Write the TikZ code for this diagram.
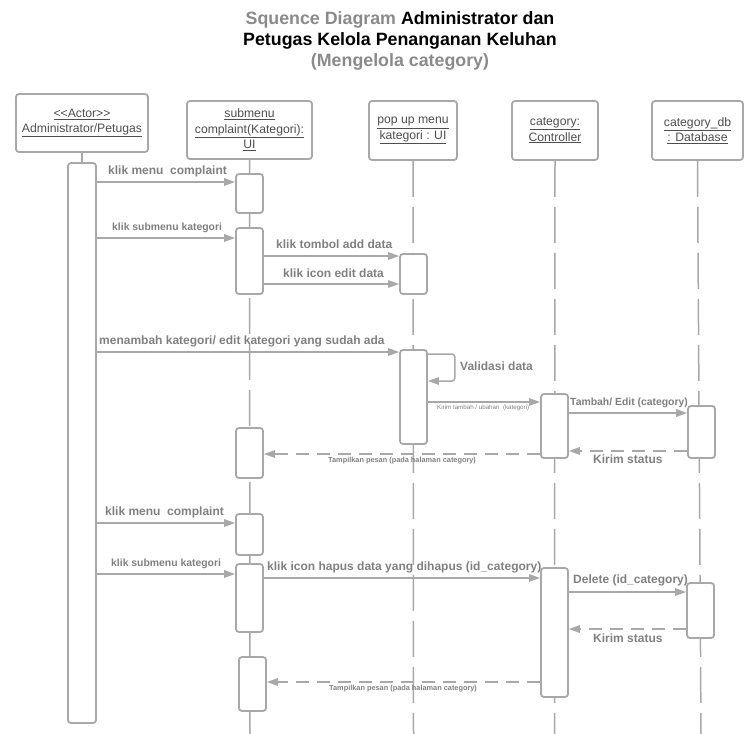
\documentclass[tikz,border=0pt]{standalone}
\usepackage{fontspec}
\setmainfont{Liberation Sans}
\usetikzlibrary{arrows.meta}

\definecolor{linegray}{HTML}{A8A8A8}
\definecolor{lblgray}{HTML}{808080}
\definecolor{hdrgray}{HTML}{4E4E4E}
\definecolor{titlegray}{HTML}{8A8A8A}

\tikzset{
  headbox/.style={draw=linegray, line width=1.8pt, rounded corners=3pt, fill=white,
    align=center, text=hdrgray, font=\fontsize{12.2}{15.5}\selectfont, inner sep=0pt},
  actbox/.style={draw=linegray, line width=1.8pt, rounded corners=3pt, fill=white,
    minimum width=27pt, inner sep=0pt},
  lifeline/.style={draw=linegray, line width=1.5pt, dash pattern=on 36pt off 10pt},
  msg/.style={draw=linegray, line width=1.5pt, -{Triangle[length=11pt,width=7.5pt]}},
  reply/.style={msg, dash pattern=on 13pt off 8pt},
  lbl/.style={text=lblgray, font=\bfseries\fontsize{12}{14}\selectfont, anchor=west, inner sep=0pt},
  lblmid/.style={lbl, font=\bfseries\fontsize{10.4}{12}\selectfont},
  lblsmall/.style={lbl, font=\bfseries\fontsize{7.35}{8}\selectfont},
  lbltiny/.style={lbl, font=\fontsize{6.2}{7}\selectfont},
}

\begin{document}
\begin{tikzpicture}[x=1pt, y=-1pt]
\useasboundingbox (0,0) rectangle (745,734);

% title
\node[align=center, font=\bfseries\fontsize{17.8}{21}\selectfont, inner sep=0pt] (title) at (400,41)
  {\textcolor{titlegray}{Squence Diagram} Administrator dan\\
   Petugas Kelola Penanganan Keluhan\\
   \textcolor{titlegray}{(Mengelola category)}};

% participant heads
\node[headbox, minimum width=132pt, minimum height=58pt] (actor) at (82,123)
  {\underline{<{}<Actor>{}>}\\\underline{Administrator/Petugas}};
\node[headbox, minimum width=125pt, minimum height=58pt] (sub) at (249.5,130)
  {\underline{submenu}\\\underline{complaint(Kategori):}\\\underline{UI}};
\node[headbox, minimum width=88pt, minimum height=59pt] (pop) at (413,130.5)
  {\underline{pop up menu}\\\underline{kategori : UI}};
\node[headbox, minimum width=86pt, minimum height=59pt] (ctl) at (555,130.5)
  {\underline{category:}\\\underline{Controller}};
\node[headbox, minimum width=91pt, minimum height=59pt] (db) at (697.5,130.5)
  {\underline{category\_db}\\\underline{: Database}};

% lifeline ends
\coordinate (subEnd) at (250,734);
\coordinate (popEnd) at (413.5,734);
\coordinate (ctlEnd) at (554.5,734);
\coordinate (dbEnd) at (701,734);

% lifelines
\draw[lifeline] (sub.south) -- (subEnd);
\draw[lifeline] (pop.south) -- (popEnd);
\draw[lifeline] (ctl.south) -- (ctlEnd);
\draw[lifeline] (db.south) -- (dbEnd);

% activation bars
\node[actbox, minimum width=28pt, minimum height=560pt] (actbar) at (82,443) {};
\draw[draw=linegray, line width=1.5pt] (actor.south) -- (actbar.north);

\node[actbox, minimum height=39pt] (subA1) at (249.5,193.5) {};
\node[actbox, minimum height=66pt] (subA2) at (249.5,261) {};
\node[actbox, minimum height=50pt] (subA3) at (249.5,453) {};
\node[actbox, minimum height=41pt] (subA4) at (249.5,534.5) {};
\node[actbox, minimum height=68pt] (subA5) at (249.5,598) {};
\node[actbox, minimum height=54pt] (subA6) at (252.5,684) {};

\node[actbox, minimum height=40pt] (popP1) at (413.5,274) {};
\node[actbox, minimum height=94pt] (popP2) at (413.5,397) {};

\node[actbox, minimum height=64pt] (ctlC1) at (554.5,426) {};
\node[actbox, minimum height=129pt] (ctlC2) at (554.5,632.5) {};

\node[actbox, minimum height=52pt] (dbD1) at (701.5,432) {};
\node[actbox, minimum height=55pt] (dbD2) at (700.5,610.5) {};

% messages: first part
\draw[msg] (actbar.east |- 0,182) -- (subA1.west |- 0,182);
\node[lbl] (m1) at (108,171) {klik menu\ \ complaint};

\draw[msg] (actbar.east |- 0,238) -- (subA2.west |- 0,238);
\node[lblmid] (m2) at (112,228) {klik submenu kategori};

\draw[msg] (subA2.east |- 0,256) -- (popP1.west |- 0,256);
\node[lbl] (m3) at (276,244) {klik tombol add data};

\draw[msg] (subA2.east |- 0,284) -- (popP1.west |- 0,284);
\node[lbl] (m4) at (283,273) {klik icon edit data};

\draw[msg] (actbar.east |- 0,352) -- (popP2.west |- 0,352);
\node[lbl] (m5) at (99,341) {menambah kategori/ edit kategori yang sudah ada};

\draw[msg, rounded corners=3pt] (popP2.east |- 0,354) -- ++(27,0) -- ++(0,27) -- (popP2.east |- 0,381);
\node[lbl] (m6) at (460,366) {Validasi data};

\draw[msg] (popP2.east |- 0,402) -- (ctlC1.west |- 0,402);
\node[lbltiny] (m7) at (437,408) {Kirim tambah / ubahan\ \ (kategori)};

\draw[msg] (ctlC1.east |- 0,413) -- (dbD1.west |- 0,413);
\node[lblmid] (m8) at (570,403) {Tambah/ Edit (category)};

\draw[reply] (dbD1.west |- 0,451) -- (ctlC1.east |- 0,451);
\node[lbl] (m9) at (593,459) {Kirim status};

\draw[reply] (ctlC1.west |- 0,454) -- (subA3.east |- 0,454);
\node[lblsmall] (m10) at (328,461) {Tampilkan pesan (pada halaman category)};

% messages: second part
\draw[msg] (actbar.east |- 0,523) -- (subA4.west |- 0,523);
\node[lbl] (m11) at (105,512) {klik menu\ \ complaint};

\draw[msg] (actbar.east |- 0,574) -- (subA5.west |- 0,574);
\node[lblmid] (m12) at (111,564) {klik submenu kategori};

\draw[msg] (subA5.east |- 0,578) -- (ctlC2.west |- 0,578);
\node[lbl] (m13) at (267,567) {klik icon hapus data yang dihapus (id\_category)};

\draw[msg] (ctlC2.east |- 0,592) -- (dbD2.west |- 0,592);
\node[lbl] (m14) at (573,580) {Delete (id\_category)};

\draw[reply] (dbD2.west |- 0,629) -- (ctlC2.east |- 0,629);
\node[lbl] (m15) at (593,638) {Kirim status};

\draw[reply] (ctlC2.west |- 0,682) -- (subA6.east |- 0,682);
\node[lblsmall] (m16) at (329,689) {Tampilkan pesan (pada halaman category)};

\end{tikzpicture}
\end{document}
